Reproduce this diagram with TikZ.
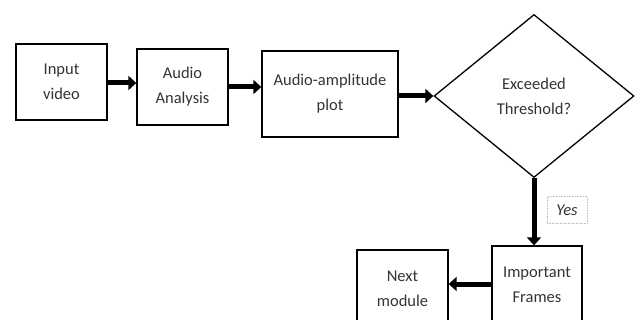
\documentclass[tikz,border=0pt]{standalone}
\usepackage{fontspec}
\setmainfont{Carlito}
\usepackage{tikz}
\usetikzlibrary{arrows.meta,shapes.geometric}

\begin{document}
\begin{tikzpicture}[x=1pt,y=-1pt,
    box/.style={draw,line width=1.3pt,inner sep=0pt,align=center,
        font=\fontsize{16.5}{25}\selectfont,text=black!80},
    flow/.style={line width=5pt,-{Triangle[length=8pt,width=14pt]}}]
    \useasboundingbox (0,0) rectangle (642,320);
    \clip (0,0) rectangle (642,320);

    \node[box,minimum width=91pt,minimum height=76pt] (inp) at (61.5,82) {Input\\video};
    \node[box,minimum width=91pt,minimum height=76pt] (ana) at (182.5,87) {Audio\\Analysis};
    \node[box,minimum width=136pt,minimum height=86pt] (plot) at (330,94) {Audio-amplitude\\plot};
    \node[box,diamond,aspect=1.23,minimum width=200pt,minimum height=163pt] (thr) at (534,96) {Exceeded\\Threshold?};

    \node[box,minimum width=90pt,minimum height=78pt] (imp) at (537,285) {Important\\Frames};
    \node[box,minimum width=91pt,minimum height=78pt] (nxt) at (402.5,289) {Next\\module};

    \node[draw=black!25,densely dotted,line width=0.6pt,minimum width=40pt,minimum height=27pt,
        font=\fontsize{16.5}{18}\selectfont\itshape,text=black!80] (yes) at (567,210) {Yes};

    \draw[flow] (inp.east |- 0,83) -- (ana.west |- 0,83);
    \draw[flow] (ana.east) -- (ana.east -| plot.west);
    \draw[flow] (plot.east |- thr.west) -- (thr.west);
    \draw[flow] (thr.south) -- (thr.south |- imp.north);
    \draw[flow] (imp.west |- 0,284) -- (nxt.east |- 0,284);
\end{tikzpicture}
\end{document}
